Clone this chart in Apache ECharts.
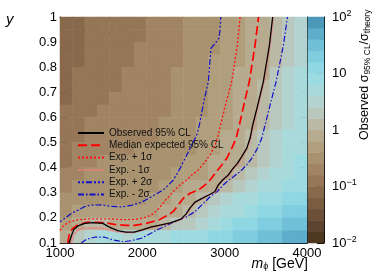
<!DOCTYPE html>
<html><head><meta charset="utf-8">
<script src="https://cdn.jsdelivr.net/npm/echarts@6/dist/echarts.min.js"></script>
<style>html,body{margin:0;padding:0;background:#fff}#c{width:374px;height:280px}</style>
</head><body><div id="c"></div>
<script>
// ---------------- data ----------------
const mCenters = [1075,1225,1375,1525,1675,1825,1975,2125,2275,2425,2575,2725,2875,3025,3175,3325,3475,3625,3775,3925];
const yCenters = [0.125,0.175,0.225,0.275,0.325,0.375,0.425,0.475,0.525,0.575,0.625,0.675,0.725,0.775,0.825,0.875,0.925,0.975];
// log10(observed sigma95 / sigma_theory), rows from y=0.975 (top) down to y=0.125
const logRatioRows = [
 [-1.20,-1.10,-1.00,-0.95,-0.92,-0.88,-0.84,-0.78,-0.71,-0.64,-0.57,-0.50,-0.43,-0.35,-0.27,-0.16,-0.06,0.07,0.28,0.49],
 [-1.18,-1.08,-0.98,-0.93,-0.90,-0.86,-0.82,-0.76,-0.70,-0.63,-0.56,-0.49,-0.42,-0.34,-0.26,-0.15,-0.05,0.09,0.30,0.51],
 [-1.15,-1.05,-0.96,-0.91,-0.88,-0.84,-0.80,-0.75,-0.69,-0.62,-0.55,-0.48,-0.41,-0.33,-0.24,-0.12,-0.04,0.12,0.33,0.54],
 [-1.12,-1.02,-0.94,-0.89,-0.86,-0.82,-0.78,-0.75,-0.68,-0.61,-0.54,-0.47,-0.40,-0.32,-0.22,-0.11,-0.02,0.16,0.37,0.58],
 [-1.10,-1.00,-0.92,-0.87,-0.84,-0.80,-0.77,-0.73,-0.67,-0.60,-0.53,-0.46,-0.38,-0.30,-0.20,-0.09,-0.01,0.20,0.41,0.60],
 [-1.07,-0.97,-0.89,-0.84,-0.81,-0.78,-0.75,-0.71,-0.66,-0.59,-0.52,-0.45,-0.37,-0.29,-0.18,-0.08,0.02,0.23,0.44,0.62],
 [-1.04,-0.94,-0.86,-0.81,-0.78,-0.75,-0.72,-0.69,-0.64,-0.57,-0.50,-0.43,-0.35,-0.27,-0.16,-0.06,0.06,0.27,0.48,0.66],
 [-1.00,-0.90,-0.83,-0.78,-0.75,-0.72,-0.70,-0.67,-0.62,-0.56,-0.49,-0.41,-0.33,-0.25,-0.13,-0.04,0.11,0.32,0.53,0.69],
 [-0.96,-0.86,-0.79,-0.74,-0.71,-0.69,-0.67,-0.64,-0.60,-0.53,-0.46,-0.39,-0.31,-0.21,-0.10,-0.01,0.18,0.39,0.59,0.72],
 [-0.92,-0.82,-0.75,-0.70,-0.67,-0.65,-0.63,-0.61,-0.57,-0.52,-0.45,-0.37,-0.29,-0.18,-0.08,0.02,0.23,0.44,0.62,0.75],
 [-0.88,-0.78,-0.71,-0.66,-0.63,-0.61,-0.59,-0.57,-0.54,-0.50,-0.43,-0.34,-0.26,-0.15,-0.05,0.08,0.29,0.50,0.66,0.78],
 [-0.82,-0.72,-0.65,-0.60,-0.57,-0.55,-0.53,-0.51,-0.48,-0.44,-0.36,-0.28,-0.18,-0.08,-0.02,0.16,0.37,0.55,0.68,0.80],
 [-0.74,-0.64,-0.57,-0.53,-0.51,-0.50,-0.49,-0.47,-0.44,-0.39,-0.30,-0.21,-0.10,-0.03,0.15,0.36,0.54,0.66,0.76,0.86],
 [-0.64,-0.53,-0.47,-0.44,-0.43,-0.43,-0.43,-0.42,-0.39,-0.27,-0.20,-0.11,-0.03,0.14,0.35,0.53,0.66,0.76,0.86,0.96],
 [-0.52,-0.45,-0.42,-0.41,-0.42,-0.42,-0.42,-0.37,-0.27,-0.15,-0.06,0.01,0.22,0.43,0.60,0.72,0.82,0.92,1.02,1.12],
 [-0.42,-0.36,-0.33,-0.32,-0.33,-0.33,-0.32,-0.28,-0.17,-0.07,0.04,0.25,0.46,0.64,0.78,0.90,1.00,1.10,1.20,1.30],
 [-0.22,-0.03,0.01,0.02,-0.10,-0.12,-0.11,-0.06,0.05,0.20,0.35,0.55,0.75,0.90,1.05,1.18,1.28,1.38,1.48,1.58],
 [-0.05,0.30,0.55,0.62,0.60,0.58,0.62,0.68,0.74,0.80,0.88,0.96,1.05,1.15,1.25,1.35,1.45,1.55,1.65,1.75]
];
// colour bands of the z axis (log10 edges), bottom -> top
const bandLow = [-2.0,-1.8,-1.6,-1.4,-1.2,-1.0,-0.8,-0.6,-0.4,-0.2,0.0,0.2,0.4,0.6,0.8,1.0,1.2,1.4,1.6,1.8];
const bandColors = ['#4e3822','#5d4430','#6b4f37','#7a5c41','#88694c','#957657','#a08463','#a9926f','#b09e7d','#b6ab8e',
                    '#bab9a6','#b9c8bf','#b3d3d0','#a9dadb','#9cdbe2','#8fd7e3','#80cde0','#70c0d8','#5eaecb','#4c98b8'];
const zTickExps = [-2,-1,0,1,2];

const observed = [[1110,0.1],[1140,0.13],[1170,0.155],[1220,0.168],[1300,0.178],[1400,0.181],[1520,0.178],[1600,0.163],[1700,0.149],[1800,0.143],[1900,0.143],[2000,0.152],[2100,0.163],[2200,0.17],[2340,0.18],[2470,0.195],[2530,0.215],[2580,0.24],[2640,0.263],[2720,0.277],[2800,0.29],[2880,0.304],[2920,0.33],[2975,0.351],[3045,0.371],[3100,0.396],[3155,0.417],[3207,0.444],[3268,0.477],[3309,0.518],[3341,0.57],[3395,0.64],[3470,0.743],[3544,0.888],[3583,1.0]];
const medianExp = [[1095,0.1],[1115,0.14],[1160,0.16],[1220,0.173],[1340,0.183],[1540,0.181],[1660,0.174],[1800,0.17],[1910,0.17],[2070,0.18],[2200,0.192],[2316,0.212],[2377,0.226],[2437,0.251],[2498,0.278],[2580,0.298],[2681,0.311],[2762,0.331],[2823,0.351],[2883,0.377],[2965,0.411],[3025,0.437],[3086,0.477],[3139,0.517],[3179,0.57],[3240,0.66],[3300,0.743],[3369,0.888],[3412,1.0]];
const expPlus1 = [[1000,0.15],[1040,0.168],[1100,0.182],[1200,0.192],[1350,0.196],[1600,0.196],[1800,0.193],[1950,0.195],[2050,0.203],[2130,0.216],[2200,0.237],[2280,0.27],[2377,0.305],[2458,0.331],[2539,0.351],[2600,0.371],[2681,0.391],[2762,0.424],[2823,0.451],[2883,0.49],[2923,0.53],[2950,0.57],[3010,0.65],[3086,0.743],[3154,0.888],[3188,1.0]];
const expMinus1 = [[1140,0.1],[1165,0.13],[1210,0.151],[1280,0.158],[1400,0.16],[1520,0.158],[1600,0.151],[1700,0.145],[1800,0.142],[1900,0.142],[2000,0.151],[2100,0.162],[2200,0.169],[2340,0.179],[2475,0.194],[2537,0.215],[2587,0.24],[2647,0.263],[2727,0.277],[2807,0.29],[2887,0.304],[2927,0.33],[2982,0.351],[3052,0.371],[3107,0.396],[3162,0.417],[3214,0.444],[3275,0.477],[3316,0.518],[3348,0.57],[3402,0.64],[3477,0.743],[3551,0.888],[3590,1.0]];
const expPlus2 = [[1000,0.185],[1057,0.198],[1138,0.218],[1219,0.231],[1300,0.245],[1381,0.251],[1500,0.252],[1620,0.246],[1750,0.244],[1866,0.25],[1988,0.262],[2090,0.28],[2175,0.296],[2276,0.317],[2377,0.351],[2458,0.397],[2519,0.437],[2600,0.49],[2661,0.53],[2693,0.57],[2745,0.66],[2802,0.743],[2820,0.82],[2835,0.876],[2880,0.893],[2930,0.915],[2945,0.95],[2953,1.0]];
const expMinus2 = [[1259,0.1],[1320,0.115],[1421,0.123],[1543,0.123],[1644,0.112],[1766,0.105],[1866,0.109],[1988,0.119],[2100,0.138],[2215,0.158],[2377,0.182],[2539,0.205],[2640,0.225],[2721,0.251],[2823,0.284],[2904,0.304],[3005,0.338],[3106,0.364],[3187,0.384],[3268,0.411],[3329,0.437],[3389,0.471],[3450,0.517],[3491,0.57],[3560,0.66],[3625,0.743],[3714,0.888],[3762,1.0]];

// ---------------- chart ----------------
const FONT = '"Liberation Sans", Arial, Helvetica, sans-serif';
const heatData = [];
logRatioRows.forEach((row, i) => {
  const yi = yCenters.length - 1 - i;
  row.forEach((v, xi) => heatData.push([xi, yi, v]));
});
const bandCenters = bandLow.map(b => +(b + 0.1).toFixed(2));
const cbData = bandCenters.map((v, i) => [0, i, v]);
const pieces = bandLow.map((b, i) => ({gte: b, lt: +(b + 0.2).toFixed(2), color: bandColors[i]}));
const minorLog = [];
for (let e = -2; e < 2; e++) for (let k = 2; k <= 9; k++) minorLog.push(Math.log10(k) + e);

const chart = echarts.init(document.getElementById('c'), null, {renderer: 'canvas'});
const tickStyle = {color: '#000', width: 1};
const lineSeries = (name, data, color, width, type, z) => ({
  name, type: 'line', data, xAxisIndex: 1, yAxisIndex: 1, symbol: 'none', showSymbol: false,
  lineStyle: {color, width, type}, itemStyle: {color}, z, silent: true, animation: false
});

chart.setOption({
  animation: false,
  grid: [
    {left: 60, top: 17, width: 247, height: 226},
    {left: 308, top: 17, width: 16, height: 226}
  ],
  xAxis: [
    {type: 'category', gridIndex: 0, data: mCenters, show: false},
    {type: 'value', gridIndex: 0, min: 1000, max: 4000, interval: 1000, position: 'bottom',
     axisLine: {show: true, onZero: false, lineStyle: tickStyle},
     axisTick: {show: true, inside: true, length: 8, lineStyle: tickStyle},
     minorTick: {show: true, splitNumber: 5, length: 4, lineStyle: tickStyle},
     axisLabel: {color: '#000', fontSize: 13, margin: 4, fontFamily: FONT, formatter: v => String(v)},
     splitLine: {show: false}},
    {type: 'value', gridIndex: 0, min: 1000, max: 4000, interval: 1000, position: 'top',
     axisLine: {show: true, onZero: false, lineStyle: tickStyle},
     axisTick: {show: true, inside: true, length: 8, lineStyle: tickStyle},
     minorTick: {show: true, splitNumber: 5, length: 4, lineStyle: tickStyle},
     axisLabel: {show: false}, splitLine: {show: false}},
    {type: 'category', gridIndex: 1, data: ['z'], show: false}
  ],
  yAxis: [
    {type: 'category', gridIndex: 0, data: yCenters, show: false},
    {type: 'value', gridIndex: 0, min: 0.1, max: 1.0, interval: 0.1, position: 'left',
     axisLine: {show: true, onZero: false, lineStyle: tickStyle},
     axisTick: {show: true, inside: true, length: 8, lineStyle: tickStyle},
     minorTick: {show: true, splitNumber: 5, length: 4, lineStyle: tickStyle},
     axisLabel: {color: '#000', fontSize: 13, margin: 3, fontFamily: FONT,
                 formatter: v => String(Math.round(v * 10) / 10)},
     splitLine: {show: false}},
    {type: 'value', gridIndex: 0, min: 0.1, max: 1.0, interval: 0.1, position: 'right',
     axisLine: {show: true, onZero: false, lineStyle: tickStyle},
     axisTick: {show: true, inside: true, length: 8, lineStyle: tickStyle},
     minorTick: {show: true, splitNumber: 5, length: 4, lineStyle: tickStyle},
     axisLabel: {show: false}, splitLine: {show: false}},
    {type: 'category', gridIndex: 1, data: bandCenters, show: false},
    {type: 'value', gridIndex: 1, min: -2, max: 2, interval: 1, position: 'right',
     axisLine: {show: true, onZero: false, lineStyle: tickStyle},
     axisTick: {show: true, inside: true, length: 7, lineStyle: tickStyle},
     axisLabel: {color: '#000', fontSize: 13, margin: 8, fontFamily: FONT,
       customValues: zTickExps,
       formatter: v => {
         const e = Math.round(v);
         if (e === 0) return '1';
         if (e === 1) return '10';
         return '10{sup|' + (e < 0 ? '\u2212' + (-e) : e) + '}';
       },
       rich: {sup: {fontSize: 9, fontFamily: FONT, color: '#000', verticalAlign: 'top', padding: [0, 0, 7, 0]}}},
     splitLine: {show: false}},
    {type: 'value', gridIndex: 1, min: -2, max: 2, position: 'right',
     axisLine: {show: false},
     axisTick: {show: true, inside: true, length: 4, lineStyle: tickStyle, customValues: minorLog},
     axisLabel: {show: false}, splitLine: {show: false}}
  ],
  visualMap: {type: 'piecewise', show: false, dimension: 2, seriesIndex: [0, 1], pieces},
  legend: {
    orient: 'vertical', left: 72, top: 122, itemWidth: 26, itemHeight: 8, itemGap: 0.3,
    itemStyle: {opacity: 0},
    textStyle: {fontSize: 10, lineHeight: 12, color: '#111', fontFamily: FONT},
    data: ['Observed 95% CL', 'Median expected 95% CL', 'Exp. + 1\u03c3', 'Exp. - 1\u03c3', 'Exp. + 2\u03c3', 'Exp. - 2\u03c3']
  },
  series: [
    {type: 'heatmap', xAxisIndex: 0, yAxisIndex: 0, data: heatData, silent: true, progressive: 0,
     itemStyle: {borderWidth: 0}, emphasis: {disabled: true}, z: 1},
    {type: 'heatmap', xAxisIndex: 3, yAxisIndex: 3, data: cbData, silent: true, progressive: 0,
     emphasis: {disabled: true}, z: 1},
    lineSeries('Exp. + 2\u03c3', expPlus2, '#1010c8', 1.2, [2, 2, 2, 2, 6, 2], 5),
    lineSeries('Exp. - 2\u03c3', expMinus2, '#1010c8', 1.2, [6, 2, 1.5, 2], 5),
    lineSeries('Exp. + 1\u03c3', expPlus1, '#ff1010', 1.3, [2, 2], 6),
    lineSeries('Exp. - 1\u03c3', expMinus1, '#f07b7b', 2, [1.5, 1], 6),
    lineSeries('Median expected 95% CL', medianExp, '#ff0000', 1.7, [9, 4], 7),
    lineSeries('Observed 95% CL', observed, '#000000', 1.3, 'solid', 8)
  ],
  graphic: [
    {type: 'text', left: 6, top: 12, style: {text: 'y', font: 'italic 15px ' + FONT, fill: '#000'}},
    {type: 'text', x: 78, y: 26, style: {text: 'ATLAS', font: 'italic bold 15px ' + FONT, fill: '#000'}},
    {type: 'text', x: 77, y: 38, style: {text: '\u221as = 13 TeV, 36.1 fb{sup|\u22121}', font: '10px ' + FONT, fill: '#000',
      rich: {sup: {fontSize: 7, fontFamily: FONT, fill: '#000', verticalAlign: 'top', padding: [0, 0, 5, 0]}}}},
    {type: 'text', x: 78, y: 66, style: {text: 'Resonant DM signal', font: 'italic 10px ' + FONT, fill: '#000'}},
    {type: 'text', x: 78, y: 79, style: {text: '\u03bb = 0.2, {it|m}{sub|\u03c7} = 1.0 GeV', font: '10px ' + FONT, fill: '#000',
      rich: {it: {fontStyle: 'italic', fontSize: 10, fontFamily: FONT, fill: '#000'},
             sub: {fontSize: 7, fontFamily: FONT, fill: '#000', verticalAlign: 'bottom', padding: [4, 0, 0, 0]}}}},
    {type: 'text', right: 66, top: 257, style: {text: '{it|m}{sub|\u03d5} [GeV]', font: '14px ' + FONT, fill: '#000',
      rich: {it: {fontStyle: 'italic', fontSize: 14, fontFamily: FONT, fill: '#000'},
             sub: {fontSize: 9, fontFamily: FONT, fill: '#000', verticalAlign: 'bottom', padding: [6, 0, 0, 0]}}}},
    {type: 'text', x: 358, y: 140, rotation: Math.PI / 2,
     style: {text: 'Observed \u03c3{sub|95% CL}/\u03c3{sub|theory}', font: '12.5px ' + FONT, fill: '#000',
       rich: {sub: {fontSize: 8.5, fontFamily: FONT, fill: '#000', verticalAlign: 'bottom', padding: [5, 0, 0, 0]}}}}
  ]
});
</script></body></html>
